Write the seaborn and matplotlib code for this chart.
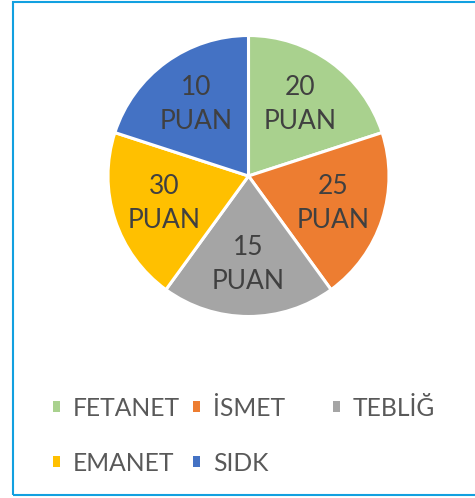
import matplotlib
matplotlib.use("Agg")
import matplotlib.pyplot as plt
import seaborn as sns
from matplotlib.patches import Rectangle

categories = ["FETANET", "İSMET", "TEBLİĞ", "EMANET", "SIDK"]
slice_sizes = [1, 1, 1, 1, 1]
scores = [20, 25, 15, 30, 10]
colors = ["#A9D18E", "#ED7D31", "#A5A5A5", "#FFC000", "#4472C4"]

sns.set_theme(style="white")
plt.rcParams["font.family"] = ["Lato", "DejaVu Sans"]
palette = sns.color_palette(colors)

fig = plt.figure(figsize=(4.75, 4.98), dpi=100)
fig.patch.set_facecolor("white")

W, H = 475.0, 498.0
cx, cy, r = 248.5, 176.0, 140.5
ax = fig.add_axes([(cx - r) / W, 1 - (cy + r) / H, 2 * r / W, 2 * r / H])

labels = [f"{s}\nPUAN" for s in scores]
wedges, texts = ax.pie(
    slice_sizes, labels=labels, colors=palette, startangle=90, counterclock=False,
    labeldistance=0.63, radius=1.0,
    wedgeprops=dict(edgecolor="white", linewidth=2.2),
    textprops=dict(ha="center", va="center", fontsize=19, color="#404040", linespacing=1.45),
)
ax.set_xlim(-1, 1)
ax.set_ylim(-1, 1)
ax.set_aspect("equal")
ax.axis("off")

# legend, laid out on a uniform grid like the original
pos = [(53, 408), (193, 408), (333, 408), (53, 463), (193, 463)]
for w, name, (px, py) in zip(wedges, categories, pos):
    fig.legend([w], [name], loc="center left", bbox_to_anchor=(px / W, 1 - py / H),
               frameon=False, fontsize=17.7, labelcolor="#595959",
               handlelength=0.3, handleheight=0.3, handletextpad=0.5,
               borderpad=0, borderaxespad=0)
for leg in fig.legends:
    for h in leg.legend_handles:
        h.set_edgecolor("none")

fig.patches.append(Rectangle((12.5 / W, 3.0 / H), 1.2, 1 - 5.5 / H, transform=fig.transFigure,
                             fill=False, edgecolor="#12A0E0", linewidth=1.5))

fig.savefig("out.png", dpi=100, facecolor="white")
